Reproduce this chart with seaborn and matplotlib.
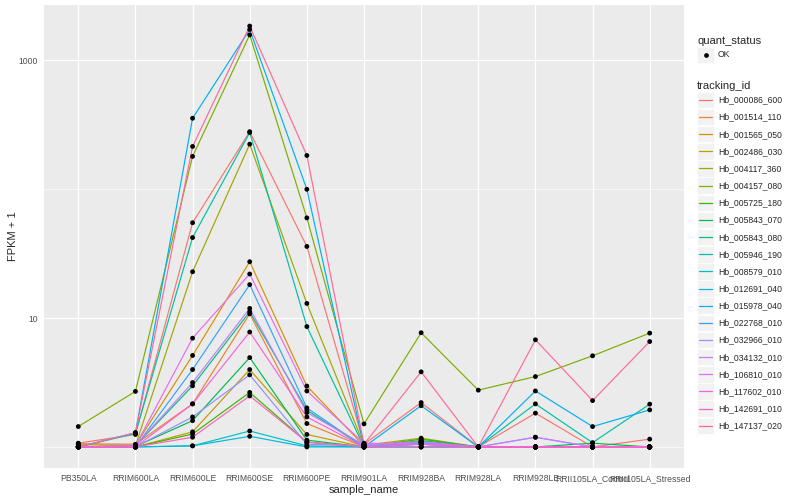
import numpy as np
import pandas as pd
import matplotlib
matplotlib.use('Agg')
import matplotlib.pyplot as plt
import seaborn as sns
from matplotlib.lines import Line2D
from matplotlib.patches import Rectangle
from matplotlib.legend_handler import HandlerBase
from matplotlib.ticker import FixedLocator, NullFormatter

samples = ['PB350LA', 'RRIM600LA', 'RRIM600LE', 'RRIM600SE', 'RRIM600PE', 'RRIM901LA',
           'RRIM928BA', 'RRIM928LA', 'RRIM928LE', 'RRII105LA_Control', 'RRII105LA_Stressed']

tracking_ids = ['Hb_000086_600', 'Hb_001514_110', 'Hb_001565_050', 'Hb_002486_030',
                'Hb_004117_360', 'Hb_004157_080', 'Hb_005725_180', 'Hb_005843_070',
                'Hb_005843_080', 'Hb_005946_190', 'Hb_008579_010', 'Hb_012691_040',
                'Hb_015978_040', 'Hb_022768_010', 'Hb_032966_010', 'Hb_034132_010',
                'Hb_106810_010', 'Hb_117602_010', 'Hb_142691_010', 'Hb_147137_020']

# FPKM + 1 per sample (same order as samples)
hb_000086_600 = [1.07, 1.25, 55, 280, 36, 1.05, 2.21, 1.0, 1.83, 1.0, 1.15]
hb_001514_110 = [1.06, 1.05, 2.16, 10.8, 1.52, 1.0, 1.1, 1.0, 1.0, 1.0, 1.0]
hb_001565_050 = [1.04, 1.03, 5.13, 27.4, 2.97, 1.02, 1.05, 1.0, 1.0, 1.0, 1.0]
hb_002486_030 = [1.0, 1.0, 1.31, 3.99, 1.25, 1.0, 1.1, 1.0, 1.0, 1.0, 1.0]
hb_004117_360 = [1.0, 1.02, 22.9, 224, 13.0, 1.03, 1.17, 1.0, 1.0, 1.0, 1.0]
hb_004157_080 = [1.44, 2.7, 180, 1580, 60, 1.51, 7.7, 2.76, 3.52, 5.1, 7.65]
hb_005725_180 = [1.0, 1.0, 1.26, 2.65, 1.09, 1.0, 1.15, 1.0, 1.0, 1.0, 1.0]
hb_005843_070 = [1.0, 1.01, 1.6, 4.94, 1.13, 1.0, 1.12, 1.0, 1.0, 1.07, 1.0]
hb_005843_080 = [1.0, 1.02, 2.98, 11.2, 1.93, 1.0, 1.08, 1.0, 1.0, 1.0, 1.0]
hb_005946_190 = [1.0, 1.27, 42.2, 276, 8.6, 1.0, 1.1, 1.0, 2.16, 1.08, 2.15]
hb_008579_010 = [1.0, 1.0, 1.02, 1.33, 1.02, 1.0, 1.0, 1.0, 1.0, 1.0, 1.0]
hb_012691_040 = [1.0, 1.0, 1.02, 1.21, 1.0, 1.0, 1.0, 1.0, 1.0, 1.0, 1.0]
hb_015978_040 = [1.0, 1.29, 356, 1740, 100, 1.0, 2.09, 1.0, 2.72, 1.44, 1.94]
hb_022768_010 = [1.0, 1.0, 3.99, 18.2, 2.01, 1.0, 1.05, 1.0, 1.0, 1.0, 1.0]
hb_032966_010 = [1.0, 1.0, 1.71, 3.63, 1.05, 1.02, 1.08, 1.0, 1.19, 1.0, 1.0]
hb_034132_010 = [1.0, 1.02, 3.16, 11.9, 1.85, 1.04, 1.1, 1.0, 1.19, 1.0, 1.0]
hb_106810_010 = [1.0, 1.02, 6.99, 22, 2.72, 1.07, 1.05, 1.0, 1.0, 1.0, 1.0]
hb_117602_010 = [1.0, 1.0, 2.16, 7.8, 1.71, 1.0, 1.05, 1.0, 1.0, 1.0, 1.0]
hb_142691_010 = [1.0, 1.0, 1.19, 2.49, 1.09, 1.0, 1.0, 1.0, 1.0, 1.0, 1.0]
hb_147137_020 = [1.0, 1.29, 215, 1850, 183, 1.05, 3.83, 1.0, 6.79, 2.29, 6.58]

rows = [hb_000086_600, hb_001514_110, hb_001565_050, hb_002486_030, hb_004117_360,
        hb_004157_080, hb_005725_180, hb_005843_070, hb_005843_080, hb_005946_190,
        hb_008579_010, hb_012691_040, hb_015978_040, hb_022768_010, hb_032966_010,
        hb_034132_010, hb_106810_010, hb_117602_010, hb_142691_010, hb_147137_020]


def hcl_hex(h, c=100, l=65):
    # polar Luv -> sRGB, like R's hcl()
    xn, yn, zn = 95.047, 100.0, 108.883
    un = 4 * xn / (xn + 15 * yn + 3 * zn)
    vn = 9 * yn / (xn + 15 * yn + 3 * zn)
    u = c * np.cos(np.radians(h))
    v = c * np.sin(np.radians(h))
    Y = yn * ((l + 16) / 116) ** 3
    up = u / (13 * l) + un
    vp = v / (13 * l) + vn
    X = 9 * Y * up / (4 * vp)
    Z = -X / 3 - 5 * Y + 3 * Y / vp
    X, Y, Z = X / 100, Y / 100, Z / 100
    r = 3.240479 * X - 1.537150 * Y - 0.498535 * Z
    g = -0.969256 * X + 1.875992 * Y + 0.041556 * Z
    b = 0.055648 * X - 0.204043 * Y + 1.057311 * Z
    out = []
    for ch in (r, g, b):
        ch = 12.92 * ch if ch <= 0.0031308 else 1.055 * ch ** (1 / 2.4) - 0.055
        out.append(min(max(ch, 0), 1))
    return matplotlib.colors.to_hex(out)


n = len(tracking_ids)
hues = np.linspace(15, 375, n + 1)[:-1]
palette = [hcl_hex(h) for h in hues]

df = pd.DataFrame([
    {'tracking_id': tid, 'sample_name': s, 'fpkm1': v, 'x': j}
    for tid, vals in zip(tracking_ids, rows)
    for j, (s, v) in enumerate(zip(samples, vals))
])

sns.set_style('white')
plt.rcParams['font.family'] = ['Liberation Sans', 'DejaVu Sans']

fig = plt.figure(figsize=(8, 5), dpi=100)
ax = fig.add_axes([44 / 800, 1 - 468 / 500, (684 - 44) / 800, (468 - 5) / 500])
ax.set_facecolor('#EBEBEB')

sns.lineplot(data=df, x='x', y='fpkm1', hue='tracking_id', palette=palette,
             hue_order=tracking_ids, lw=0.85, ax=ax, legend=False, zorder=3,
             estimator=None, sort=False)
sns.scatterplot(data=df, x='x', y='fpkm1', color='black', s=12, edgecolor='none',
                ax=ax, legend=False, zorder=4)

ax.set_yscale('log')
lo, hi = np.log10(df.fpkm1.min()), np.log10(df.fpkm1.max())
pad = (hi - lo) * 0.05
ax.set_ylim(10 ** (lo - pad), 10 ** (hi + pad))
ax.set_xlim(-0.6, len(samples) - 1 + 0.6)

ax.yaxis.set_major_locator(FixedLocator([10, 1000]))
ax.yaxis.set_minor_locator(FixedLocator([1, 100]))
ax.yaxis.set_minor_formatter(NullFormatter())
ax.set_yticklabels(['10', '1000'])
ax.set_xticks(range(len(samples)))
ax.set_xticklabels(samples)

ax.grid(which='major', color='white', lw=0.9, zorder=0)
ax.grid(which='minor', axis='y', color='white', lw=0.45, zorder=0)
ax.set_axisbelow(True)
for sp in ax.spines.values():
    sp.set_visible(False)
ax.tick_params(axis='both', which='major', length=2.5, width=0.7, color='#333333',
               labelsize=6.2, labelcolor='#4D4D4D', pad=2)
ax.tick_params(axis='y', which='minor', length=0)

ax.set_xlabel('sample_name', fontsize=8, labelpad=1)
ax.set_ylabel('FPKM + 1', fontsize=8, labelpad=0)


class KeyHandler(HandlerBase):
    def create_artists(self, legend, orig_handle, xdescent, ydescent, width, height,
                       fontsize, trans):
        bg = Rectangle((-xdescent, -ydescent), width, height, facecolor='#F2F2F2',
                       edgecolor='white', lw=0.5, transform=trans)
        cy = height / 2 - ydescent
        if orig_handle.get_linestyle() in ('None', 'none', ''):
            mk = Line2D([width / 2 - xdescent], [cy], marker='o', ms=2.4, color='black',
                        ls='None', transform=trans)
        else:
            mk = Line2D([-xdescent + 1.5, width - xdescent - 1.5], [cy, cy],
                        color=orig_handle.get_color(), lw=0.9, transform=trans)
        return [bg, mk]


common = dict(frameon=False, fontsize=6.2, title_fontsize=8, alignment='left',
              handlelength=2.0, handleheight=2.58, handletextpad=0.45,
              labelspacing=0.07, borderpad=0, borderaxespad=0,
              handler_map={Line2D: KeyHandler()})

qs = [Line2D([], [], marker='o', color='black', ls='None')]
leg1 = fig.legend(qs, ['OK'], title='quant_status', loc='upper left',
                  bbox_to_anchor=(697 / 800, 1 - 36 / 500), **common)
tid_handles = [Line2D([], [], color=c) for c in palette]
leg2 = fig.legend(tid_handles, tracking_ids, title='tracking_id', loc='upper left',
                  bbox_to_anchor=(697 / 800, 1 - 81 / 500), **common)

fig.savefig('out.png', dpi=100)
